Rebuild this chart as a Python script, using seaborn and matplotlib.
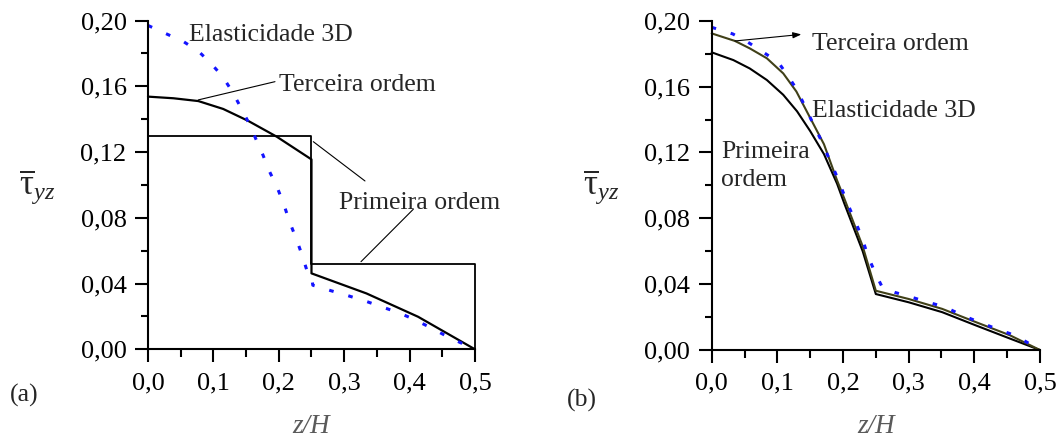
import matplotlib
matplotlib.use("Agg")
import matplotlib.pyplot as plt
import seaborn as sns

# ---------------- data: panel (a) ----------------
z_elast_a = [0.0, 0.055, 0.078, 0.096, 0.114, 0.130, 0.142, 0.155, 0.166, 0.176,
             0.186, 0.197, 0.207, 0.217, 0.227, 0.235, 0.243, 0.250, 0.252, 0.281,
             0.306, 0.332, 0.357, 0.383, 0.406, 0.433, 0.459, 0.500]
tau_elast_a = [0.197, 0.187, 0.181, 0.174, 0.166, 0.156, 0.147, 0.137, 0.127, 0.118,
               0.108, 0.099, 0.089, 0.077, 0.067, 0.058, 0.048, 0.045, 0.039, 0.0355,
               0.0326, 0.0294, 0.0259, 0.0223, 0.0184, 0.013, 0.0075, 0.0]

z_terc_a = [0.0, 0.039, 0.077, 0.115, 0.153, 0.197, 0.25, 0.25, 0.334, 0.413, 0.5]
tau_terc_a = [0.1537, 0.1527, 0.1510, 0.1462, 0.1390, 0.1293, 0.1155, 0.0462, 0.034, 0.0198, 0.0]

z_prim_a = [0.0, 0.25, 0.25, 0.5, 0.5]
tau_prim_a = [0.1295, 0.1295, 0.0517, 0.0517, 0.0]

# ---------------- data: panel (b) ----------------
z_elast_b = [0.0, 0.032, 0.055, 0.078, 0.101, 0.117, 0.130, 0.142, 0.155, 0.166,
             0.178, 0.189, 0.199, 0.209, 0.220, 0.230, 0.238, 0.250, 0.260, 0.279,
             0.305, 0.330, 0.356, 0.382, 0.407, 0.433, 0.454, 0.479, 0.5]
tau_elast_b = [0.196, 0.192, 0.187, 0.181, 0.175, 0.166, 0.158, 0.148, 0.137, 0.128,
               0.117, 0.107, 0.097, 0.087, 0.077, 0.067, 0.057, 0.046, 0.038, 0.035,
               0.032, 0.029, 0.026, 0.021, 0.017, 0.013, 0.010, 0.005, 0.0]

z_terc_b = [0.0, 0.0355, 0.058, 0.084, 0.109, 0.129, 0.150, 0.171, 0.191, 0.202,
            0.230, 0.25, 0.30, 0.351, 0.402, 0.454, 0.5]
tau_terc_b = [0.1923, 0.1877, 0.1832, 0.1772, 0.168, 0.157, 0.141, 0.125, 0.103, 0.092,
              0.063, 0.036, 0.031, 0.025, 0.017, 0.009, 0.0]

z_prim_b = [0.0, 0.033, 0.058, 0.084, 0.109, 0.130, 0.150, 0.171, 0.191, 0.202,
            0.230, 0.25, 0.30, 0.351, 0.402, 0.454, 0.5]
tau_prim_b = [0.1808, 0.1761, 0.171, 0.164, 0.155, 0.145, 0.133, 0.119, 0.101, 0.089,
              0.060, 0.034, 0.029, 0.023, 0.015, 0.007, 0.0]

# ---------------- ticks / labels ----------------
x_ticks = [0.0, 0.1, 0.2, 0.3, 0.4, 0.5]
x_ticklabels = ["0,0", "0,1", "0,2", "0,3", "0,4", "0,5"]
x_minor = [0.05, 0.15, 0.25, 0.35, 0.45]
y_ticks = [0.0, 0.04, 0.08, 0.12, 0.16, 0.20]
y_ticklabels = ["0,00", "0,04", "0,08", "0,12", "0,16", "0,20"]
y_minor = [0.02, 0.06, 0.10, 0.14, 0.18]

label_elast = "Elasticidade 3D"
label_terc = "Terceira ordem"
label_prim = "Primeira ordem"
x_label = "z/H"
y_label = r"$\overline{\mathrm{\tau}}_{yz}$"

sns.set_style("ticks")
plt.rcParams['font.family'] = ['Liberation Serif', 'DejaVu Serif']
plt.rcParams['mathtext.fontset'] = 'custom'
plt.rcParams['mathtext.rm'] = 'Liberation Serif'
plt.rcParams['mathtext.it'] = 'Liberation Serif:italic'

BLUE = '#1414ff'
OLIVE = '#404018'
TXT = 18.5

fig = plt.figure(figsize=(10.6, 4.4), dpi=100)
ax_a = fig.add_axes([0.1396, 0.2061, 0.3085, 0.7473])
ax_b = fig.add_axes([0.6714, 0.2045, 0.3097, 0.7484])

dash = (0, (1.5, 5))

# panel (a)
sns.lineplot(x=z_prim_a, y=tau_prim_a, sort=False, estimator=None, ax=ax_a,
             color='black', lw=1.3, clip_on=False)
sns.lineplot(x=z_terc_a, y=tau_terc_a, sort=False, estimator=None, ax=ax_a,
             color='black', lw=1.6, clip_on=False)
sns.lineplot(x=z_elast_a, y=tau_elast_a, sort=False, estimator=None, ax=ax_a,
             color=BLUE, lw=2.2, linestyle=dash, clip_on=False)

# panel (b)
sns.lineplot(x=z_prim_b, y=tau_prim_b, sort=False, estimator=None, ax=ax_b,
             color='black', lw=1.5, clip_on=False)
sns.lineplot(x=z_terc_b, y=tau_terc_b, sort=False, estimator=None, ax=ax_b,
             color=OLIVE, lw=1.5, clip_on=False)
sns.lineplot(x=z_elast_b, y=tau_elast_b, sort=False, estimator=None, ax=ax_b,
             color=BLUE, lw=2.2, linestyle=dash, clip_on=False)


def style(ax):
    ax.set_xlim(0, 0.5)
    ax.set_ylim(0, 0.2)
    ax.patch.set_alpha(0)
    for s in ['top', 'right']:
        ax.spines[s].set_visible(False)
    for s in ['left', 'bottom']:
        ax.spines[s].set_linewidth(1.5)
        ax.spines[s].set_color('black')
    ax.set_xticks(x_ticks)
    ax.set_xticklabels(x_ticklabels)
    ax.set_xticks(x_minor, minor=True)
    ax.set_yticks(y_ticks)
    ax.set_yticklabels(y_ticklabels)
    ax.set_yticks(y_minor, minor=True)
    ax.tick_params(which='major', length=9.4, width=1.5, direction='out',
                   labelsize=19, colors='black')
    ax.tick_params(axis='y', which='major', pad=6)
    ax.tick_params(axis='x', which='major', pad=7)
    ax.tick_params(which='minor', length=5.4, width=1.5, direction='out', colors='black')
    ax.set_xlabel('')
    ax.set_ylabel('')


style(ax_a)
style(ax_b)

# axis labels
ax_a.text(0.5, -0.2546, x_label, transform=ax_a.transAxes, ha='center', va='baseline',
          fontsize=19.5, style='italic', color='#5a5a5a')
ax_b.text(0.5, -0.252, x_label, transform=ax_b.transAxes, ha='center', va='baseline',
          fontsize=19.5, style='italic', color='#5a5a5a')
fig.text(19.0 / 1060, 1 - 195 / 440, y_label, fontsize=25, va='baseline', ha='left')
fig.text(583.0 / 1060, 1 - 195 / 440, y_label, fontsize=25, va='baseline', ha='left')

# panel tags
fig.text(10 / 1060, 1 - 402 / 440, "(a)", fontsize=TXT, va='baseline', ha='left')
fig.text(567 / 1060, 1 - 407 / 440, "(b)", fontsize=TXT, va='baseline', ha='left')

# annotations (a)
ax_a.text(0.0627, 0.1875, label_elast, fontsize=TXT, va='baseline', ha='left')
ax_a.text(0.2003, 0.1571, label_terc, fontsize=TXT, va='baseline', ha='left')
ax_a.text(0.2928, 0.0853, label_prim, fontsize=TXT, va='baseline', ha='left')
lead = dict(arrowstyle='-', lw=0.8, color='black', shrinkA=0, shrinkB=0)
ax_a.annotate('', xy=(0.0769, 0.1517), xytext=(0.1942, 0.1628), arrowprops=lead)
ax_a.annotate('', xy=(0.2528, 0.1263), xytext=(0.3318, 0.1024), arrowprops=lead)
ax_a.annotate('', xy=(0.3257, 0.0533), xytext=(0.4057, 0.0852), arrowprops=lead)

# annotations (b)
ax_b.text(0.1527, 0.1822, label_terc, fontsize=TXT, va='baseline', ha='left')
ax_b.text(0.1527, 0.1417, label_elast, fontsize=TXT, va='baseline', ha='left')
ax_b.text(0.014, 0.1164, "Primeira", fontsize=TXT, va='baseline', ha='left')
ax_b.text(0.014, 0.0996, "ordem", fontsize=TXT, va='baseline', ha='left')
ax_b.annotate('', xy=(0.1366, 0.1917), xytext=(0.0355, 0.1877),
              arrowprops=dict(arrowstyle='-|>,head_length=0.5,head_width=0.18',
                              lw=0.8, color='black', shrinkA=0, shrinkB=0,
                              mutation_scale=10))

fig.savefig("out.png", dpi=100)
